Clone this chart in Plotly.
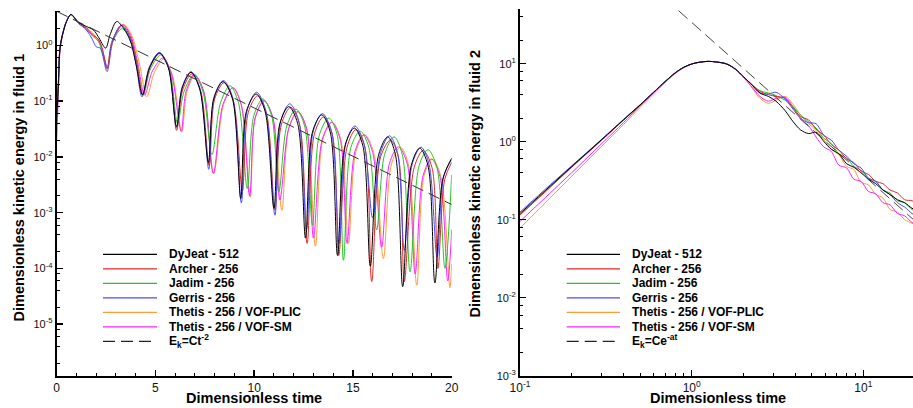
import plotly.graph_objects as go

W, H = 913, 408

# ------------------------------------------------------------------ data
names = ["DyJeat - 512", "Archer - 256", "Jadim - 256", "Gerris - 256",
         "Thetis - 256 / VOF-PLIC", "Thetis - 256 / VOF-SM"]
colors = ["#000000", "#e02828", "#22c822", "#4b4bff", "#ff9a3a", "#ff22ff"]

# ---- left panel: kinetic energy in fluid 1 vs time (linear t, log E)
t1_dyjeat = [0, 0.08, 0.17, 0.34, 0.5, 0.72, 1.1, 1.5, 1.86, 2.1, 2.48, 2.7, 3.04, 3.4, 3.75, 4.05, 4.34,
             4.7, 5.2, 5.65, 6.07, 6.35, 6.8, 7.25, 7.68, 7.95, 8.42, 8.9, 9.32, 9.6, 10.1, 10.55, 11.0,
             11.3, 11.75, 12.2, 12.6, 12.95, 13.42, 13.85, 14.22, 14.6, 15.07, 15.5, 15.88, 16.3, 16.76,
             17.15, 17.52, 17.95, 18.38, 18.8, 19.15, 19.55, 20.0]
e1_dyjeat = [0.05, 0.17, 0.9, 1.8, 2.7, 3.6, 2.6, 2.2, 1.9, 1.45, 0.9, 1.55, 2.7, 2.0, 1.15, 0.4, 0.13,
             0.4, 0.73, 0.4, 0.035, 0.17, 0.33, 0.16, 0.008, 0.11, 0.225, 0.11, 0.0018, 0.065, 0.135, 0.066, 0.0012,
             0.04, 0.08, 0.04, 0.00035, 0.028, 0.057, 0.028, 0.00017, 0.016, 0.033, 0.016, 0.00011, 0.011, 0.023,
             0.011, 0.000047, 0.007, 0.0144, 0.007, 0.000055, 0.004, 0.0095]

t1_archer = [0, 0.08, 0.17, 0.34, 0.5, 0.72, 1.1, 1.5, 1.8, 2.1, 2.3, 2.55, 2.8, 3.3, 3.7, 4.05, 4.36,
             4.72, 5.22, 5.67, 6.07, 6.38, 6.85, 7.3, 7.72, 8.0, 8.48, 8.95, 9.4, 9.7, 10.17, 10.62, 11.05,
             11.38, 11.85, 12.3, 12.68, 13.05, 13.5, 13.95, 14.28, 14.7, 15.15, 15.6, 15.95, 16.4, 16.9,
             17.3, 17.6, 18.1, 18.55, 19.0, 19.3, 19.65, 20.0]
e1_archer = [0.08, 0.2, 0.95, 1.85, 2.75, 3.6, 2.6, 2.0, 1.55, 1.3, 0.9, 0.38, 1.2, 2.3, 1.5, 0.5, 0.13,
             0.4, 0.72, 0.4, 0.03, 0.16, 0.31, 0.15, 0.007, 0.11, 0.215, 0.1, 0.0024, 0.063, 0.125, 0.062, 0.0011,
             0.039, 0.078, 0.038, 0.00028, 0.026, 0.052, 0.026, 0.00017, 0.015, 0.031, 0.015, 0.000058, 0.01, 0.02,
             0.01, 0.000058, 0.0065, 0.013, 0.0065, 0.0001, 0.004, 0.008]

t1_jadim = [0, 0.08, 0.17, 0.34, 0.5, 0.72, 1.1, 1.5, 1.8, 2.1, 2.3, 2.55, 2.8, 3.3, 3.7, 4.05, 4.38,
            4.75, 5.28, 5.72, 6.12, 6.45, 6.95, 7.4, 7.86, 8.3, 8.77, 9.2, 9.65, 9.98, 10.44, 10.88, 11.25,
            11.65, 12.12, 12.55, 12.95, 13.3, 13.78, 14.2, 14.52, 14.9, 15.37, 15.8, 16.2, 16.6, 17.08,
            17.5, 17.89, 18.35, 18.8, 19.25, 19.66, 20.0]
e1_jadim = [0.06, 0.18, 0.9, 1.8, 2.7, 3.55, 2.5, 2.0, 1.5, 1.2, 0.8, 0.4, 1.1, 2.0, 1.4, 0.5, 0.13,
            0.38, 0.68, 0.36, 0.04, 0.15, 0.3, 0.15, 0.011, 0.095, 0.19, 0.095, 0.0027, 0.055, 0.11, 0.055, 0.0024,
            0.036, 0.072, 0.036, 0.0006, 0.025, 0.05, 0.025, 0.00014, 0.015, 0.029, 0.015, 0.00049, 0.011, 0.023,
            0.011, 0.000087, 0.007, 0.0135, 0.0065, 0.0001, 0.0048]

t1_gerris = [0, 0.08, 0.17, 0.34, 0.5, 0.72, 1.1, 1.5, 1.8, 2.0, 2.2, 2.55, 2.8, 3.25, 3.65, 4.0, 4.32,
             4.7, 5.2, 5.65, 6.07, 6.35, 6.8, 7.25, 7.7, 7.97, 8.44, 8.9, 9.35, 9.65, 10.12, 10.57, 11.05,
             11.35, 11.8, 12.25, 12.65, 13.0, 13.45, 13.9, 14.3, 14.65, 15.1, 15.55, 16.0, 16.4, 16.85,
             17.25, 17.6, 18.0, 18.45, 18.85, 19.26, 19.6, 20.0]
e1_gerris = [0.1, 0.22, 0.95, 1.85, 2.75, 3.6, 2.5, 1.9, 1.3, 0.95, 0.9, 0.34, 1.1, 2.3, 1.5, 0.5, 0.12,
             0.42, 0.75, 0.42, 0.033, 0.18, 0.34, 0.17, 0.006, 0.12, 0.235, 0.12, 0.0015, 0.07, 0.145, 0.07, 0.0009,
             0.045, 0.09, 0.045, 0.0005, 0.03, 0.06, 0.03, 0.00028, 0.018, 0.036, 0.018, 0.0008, 0.012, 0.024,
             0.012, 0.00021, 0.0075, 0.015, 0.0075, 0.00016, 0.0045, 0.009]

t1_plic = [0, 0.08, 0.17, 0.34, 0.5, 0.72, 1.1, 1.5, 1.8, 2.1, 2.35, 2.58, 2.85, 3.37, 3.8, 4.2, 4.56,
           4.95, 5.42, 5.85, 6.33, 6.6, 7.0, 7.45, 7.95, 8.45, 8.92, 9.35, 9.8, 10.05, 10.5, 10.95, 11.4,
           11.75, 12.22, 12.65, 13.1, 13.48, 13.95, 14.38, 14.77, 15.15, 15.6, 16.05, 16.54, 16.95, 17.4,
           17.8, 18.23, 18.6, 19.02, 19.45, 19.91, 20.0]
e1_plic = [0.04, 0.15, 0.85, 1.8, 2.7, 3.55, 2.6, 2.1, 1.7, 1.25, 0.7, 0.4, 1.2, 2.4, 1.5, 0.45, 0.12,
           0.33, 0.57, 0.3, 0.028, 0.15, 0.29, 0.14, 0.005, 0.088, 0.175, 0.085, 0.0019, 0.05, 0.1, 0.05, 0.0011,
           0.032, 0.064, 0.032, 0.00025, 0.021, 0.042, 0.021, 0.00028, 0.0125, 0.025, 0.012, 0.00015, 0.0075, 0.015,
           0.0075, 0.00005, 0.0046, 0.0092, 0.0045, 0.000045, 0.00012]

t1_sm = [0, 0.08, 0.17, 0.34, 0.5, 0.72, 1.1, 1.5, 1.8, 2.1, 2.35, 2.57, 2.85, 3.35, 3.75, 4.1, 4.45,
         4.85, 5.38, 5.8, 6.3, 6.55, 6.98, 7.45, 7.93, 8.42, 8.92, 9.35, 9.77, 10.05, 10.5, 10.95, 11.3,
         11.75, 12.2, 12.65, 13.0, 13.45, 13.92, 14.35, 14.7, 15.1, 15.55, 16.0, 16.45, 16.85, 17.3,
         17.75, 18.15, 18.55, 18.97, 19.4, 19.8, 20.0]
e1_sm = [0.02, 0.12, 0.8, 1.8, 2.7, 3.6, 2.6, 2.1, 1.6, 1.3, 0.75, 0.4, 1.2, 2.35, 1.5, 0.5, 0.13,
         0.35, 0.6, 0.32, 0.029, 0.15, 0.3, 0.15, 0.0051, 0.088, 0.175, 0.085, 0.002, 0.05, 0.103, 0.05, 0.0017,
         0.033, 0.066, 0.033, 0.00035, 0.021, 0.042, 0.021, 0.00028, 0.0125, 0.025, 0.012, 0.00024, 0.0077, 0.0152,
         0.0075, 0.00008, 0.0046, 0.0092, 0.0045, 0.00006, 0.0005]

t1_fit = [0, 20]
e1_fit = [4.1, 0.0014]

# ---- right panel: kinetic energy in fluid 2 vs time (log-log)
t2 = [0.1, 0.15, 0.2, 0.3, 0.4, 0.5, 0.6, 0.7, 0.8, 0.9, 1.0, 1.1, 1.25, 1.4, 1.6, 1.8, 2.0, 2.2,
      2.5, 2.8, 3.1, 3.5, 3.9, 4.3, 4.8, 5.3, 5.9, 6.5, 7.2, 8.0, 8.8, 9.7, 10.7, 11.8, 13.0, 14.3,
      15.8, 17.4, 19.2, 20.0]
e2_dyjeat = [0.12, 0.27, 0.48, 1.07, 1.9, 2.95, 4.3, 5.9, 7.6, 9.0, 9.9, 10.4, 10.7, 10.5, 9.9, 8.5, 6.8, 5.6,
             4.2, 3.8, 3.3, 2.5, 1.8, 1.42, 1.27, 1.32, 1.0, 0.8, 0.7, 0.52, 0.47, 0.4, 0.33, 0.29, 0.24, 0.21,
             0.18, 0.165, 0.14, 0.135]
e2_archer = [0.115, 0.26, 0.47, 1.05, 1.88, 2.93, 4.28, 5.9, 7.6, 9.0, 9.9, 10.4, 10.7, 10.5, 9.9, 8.5, 6.8, 5.6,
             4.4, 4.0, 3.8, 3.6, 2.7, 2.1, 1.9, 1.45, 1.2, 0.92, 0.78, 0.6, 0.54, 0.42, 0.38, 0.31, 0.29, 0.24,
             0.22, 0.18, 0.175, 0.165]
e2_jadim = [0.115, 0.265, 0.475, 1.06, 1.9, 2.95, 4.3, 5.9, 7.6, 9.0, 9.9, 10.4, 10.7, 10.5, 9.9, 8.5, 6.8, 5.6,
            4.5, 4.2, 3.9, 3.4, 2.8, 2.2, 1.8, 1.5, 1.1, 0.95, 0.7, 0.62, 0.48, 0.43, 0.34, 0.31, 0.24, 0.22,
            0.175, 0.165, 0.135, 0.13]
e2_gerris = [0.125, 0.28, 0.49, 1.08, 1.92, 2.97, 4.3, 5.9, 7.6, 9.0, 9.9, 10.4, 10.7, 10.5, 9.9, 8.5, 6.8, 5.6,
             4.2, 4.1, 4.3, 3.5, 2.6, 2.0, 1.75, 1.7, 1.2, 1.05, 0.78, 0.65, 0.52, 0.46, 0.34, 0.31, 0.24, 0.21,
             0.165, 0.145, 0.12, 0.115]
e2_plic = [0.078, 0.19, 0.36, 0.88, 1.65, 2.75, 4.1, 5.7, 7.4, 8.9, 9.9, 10.4, 10.7, 10.5, 9.9, 8.4, 6.7, 5.2,
           3.6, 3.1, 3.4, 3.8, 3.0, 2.2, 1.7, 1.4, 1.05, 0.8, 0.68, 0.48, 0.44, 0.3, 0.28, 0.21, 0.19, 0.135,
           0.125, 0.1, 0.09, 0.085]
e2_sm = [0.095, 0.22, 0.4, 0.95, 1.75, 2.85, 4.2, 5.8, 7.5, 8.9, 9.9, 10.4, 10.7, 10.5, 9.9, 8.4, 6.8, 5.3,
         3.8, 3.3, 3.6, 3.7, 2.8, 2.0, 1.6, 1.15, 0.85, 0.75, 0.5, 0.46, 0.33, 0.31, 0.23, 0.215, 0.165, 0.155,
         0.12, 0.112, 0.092, 0.09]

t2_fit = [0.7, 20]
e2_fit = [68, 0.096]

fit1_label = "E<sub>k</sub>=Ct<sup>-2</sup>"
fit2_label = "E<sub>k</sub>=Ce<sup>-at</sup>"

x1_ticks = [0, 5, 10, 15, 20]
y1_ticks = [1e-5, 1e-4, 1e-3, 1e-2, 1e-1, 1]
y1_labels = ["10<sup>-5</sup>", "10<sup>-4</sup>", "10<sup>-3</sup>", "10<sup>-2</sup>", "10<sup>-1</sup>", "10<sup>0</sup>"]
x2_ticks = [0.1, 1, 10]
x2_labels = ["10<sup>-1</sup>", "10<sup>0</sup>", "10<sup>1</sup>"]
y2_ticks = [1e-3, 1e-2, 1e-1, 1, 10]
y2_labels = ["10<sup>-3</sup>", "10<sup>-2</sup>", "10<sup>-1</sup>", "10<sup>0</sup>", "10<sup>1</sup>"]

x_title = "Dimensionless time"
y1_title = "Dimensionless kinetic energy in fluid 1"
y2_title = "Dimensionless kinetic energy in fluid 2"

# ------------------------------------------------------------------ figure
left_series = [(t1_dyjeat, e1_dyjeat), (t1_archer, e1_archer), (t1_jadim, e1_jadim),
               (t1_gerris, e1_gerris), (t1_plic, e1_plic), (t1_sm, e1_sm)]
right_series = [e2_dyjeat, e2_archer, e2_jadim, e2_gerris, e2_plic, e2_sm]

FONT = "Arial, Liberation Sans, sans-serif"
DASH = "12px,6px"

fig = go.Figure()
order = [4, 5, 2, 1, 3, 0]
for i in order:
    t, e = left_series[i]
    fig.add_trace(go.Scatter(x=t, y=e, mode="lines", name=names[i], showlegend=False,
                             line=dict(color=colors[i], width=1, shape="spline", smoothing=0.9),
                             xaxis="x", yaxis="y"))
fig.add_trace(go.Scatter(x=t1_fit, y=e1_fit, mode="lines", showlegend=False,
                         line=dict(color="#333333", width=1, dash=DASH), xaxis="x", yaxis="y"))
for i in order:
    fig.add_trace(go.Scatter(x=t2, y=right_series[i], mode="lines", name=names[i], showlegend=False,
                             line=dict(color=colors[i], width=1, shape="spline", smoothing=0.9),
                             xaxis="x2", yaxis="y2"))
fig.add_trace(go.Scatter(x=t2_fit, y=e2_fit, mode="lines", showlegend=False,
                         line=dict(color="#444444", width=1, dash=DASH), xaxis="x2", yaxis="y2"))


def px(x):
    return x / W


def py(y):
    return 1 - y / H


y_dom = [py(375.7), py(10.5)]
y2_dom = [py(375.7), py(9.3)]

axis_common = dict(showline=True, linecolor="black", linewidth=2, ticks="inside", ticklen=6,
                   tickwidth=1.5, tickcolor="black", showgrid=False, zeroline=False, automargin=False,
                   tickfont=dict(family=FONT, size=12, color="#111111"), mirror=False)

minor_log_y = [m * 10.0 ** k for k in range(-6, 2) for m in (2, 4, 6, 8)]
minor_log_x = [m * 10.0 ** k for k in range(-1, 2) for m in (2, 3, 4, 5, 6, 7, 8, 9)]

fig.update_layout(
    width=W, height=H, autosize=False, margin=dict(l=0, r=0, t=0, b=0, pad=0),
    paper_bgcolor="white", plot_bgcolor="white", showlegend=False,
    font=dict(family=FONT, color="black"),
    xaxis=dict(axis_common, domain=[px(56.7), px(451.7)], range=[0, 20], anchor="y",
               tickmode="array", tickvals=x1_ticks,
               minor=dict(dtick=1, ticks="inside", ticklen=3, tickcolor="black", tickwidth=1)),
    yaxis=dict(axis_common, domain=y_dom, type="log", range=[-5.925, 0.628], anchor="x",
               tickmode="array", tickvals=y1_ticks, ticktext=y1_labels,
               tickfont=dict(family=FONT, size=11, color="#111111"),
               minor=dict(tickmode="array", tickvals=minor_log_y, ticks="inside", ticklen=3,
                          tickcolor="black", tickwidth=1)),
    xaxis2=dict(axis_common, domain=[px(520), 1.0], type="log", range=[-1, 1.289], anchor="y2",
                tickmode="array", tickvals=x2_ticks, ticktext=x2_labels,
                minor=dict(tickmode="array", tickvals=minor_log_x, ticks="inside", ticklen=3,
                           tickcolor="black", tickwidth=1)),
    yaxis2=dict(axis_common, domain=y2_dom, type="log", range=[-3, 1.697], anchor="x2",
                tickmode="array", tickvals=y2_ticks, ticktext=y2_labels,
                tickfont=dict(family=FONT, size=11, color="#111111"),
                minor=dict(tickmode="array", tickvals=minor_log_y, ticks="inside", ticklen=3,
                           tickcolor="black", tickwidth=1)),
)

ann = []
shapes = []
title_font = dict(family=FONT, size=14.5, color="black")
ann.append(dict(text="<b>" + x_title + "</b>", x=px(254), y=py(397.5), xref="paper", yref="paper",
                showarrow=False, xanchor="center", yanchor="middle", font=title_font))
ann.append(dict(text="<b>" + x_title + "</b>", x=px(717.5), y=py(397.5), xref="paper", yref="paper",
                showarrow=False, xanchor="center", yanchor="middle", font=title_font))
ann.append(dict(text="<b>" + y1_title + "</b>", x=px(18.5), y=py(188), xref="paper", yref="paper",
                showarrow=False, xanchor="center", yanchor="middle", textangle=-90, font=title_font))
ann.append(dict(text="<b>" + y2_title + "</b>", x=px(474.5), y=py(184), xref="paper", yref="paper",
                showarrow=False, xanchor="center", yanchor="middle", textangle=-90, font=title_font))

# custom legends (one per panel)
legend_font = dict(family=FONT, size=12, color="black")
row0, step = 254.3, 14.5
for (lx0, lx1, tx, fit_label) in [(103, 157, 167, fit1_label), (566.7, 620, 630, fit2_label)]:
    labels = names + [fit_label]
    cols = colors + ["#222222"]
    for j, lab in enumerate(labels):
        yy = row0 + j * step
        shapes.append(dict(type="line", xref="paper", yref="paper", x0=px(lx0), x1=px(lx1),
                           y0=py(yy), y1=py(yy),
                           line=dict(color=cols[j], width=1.2,
                                     dash=DASH if j == len(labels) - 1 else "solid")))
        ann.append(dict(text="<b>" + lab + "</b>", x=px(tx), y=py(yy), xref="paper", yref="paper",
                        showarrow=False, xanchor="left", yanchor="middle", font=legend_font))

fig.update_layout(annotations=ann, shapes=shapes)
fig.write_html("out.html", config={"displayModeBar": False, "staticPlot": True},
               post_script="document.body.style.margin='0';document.body.style.padding='0';"
                           "document.body.style.overflow='hidden';")
